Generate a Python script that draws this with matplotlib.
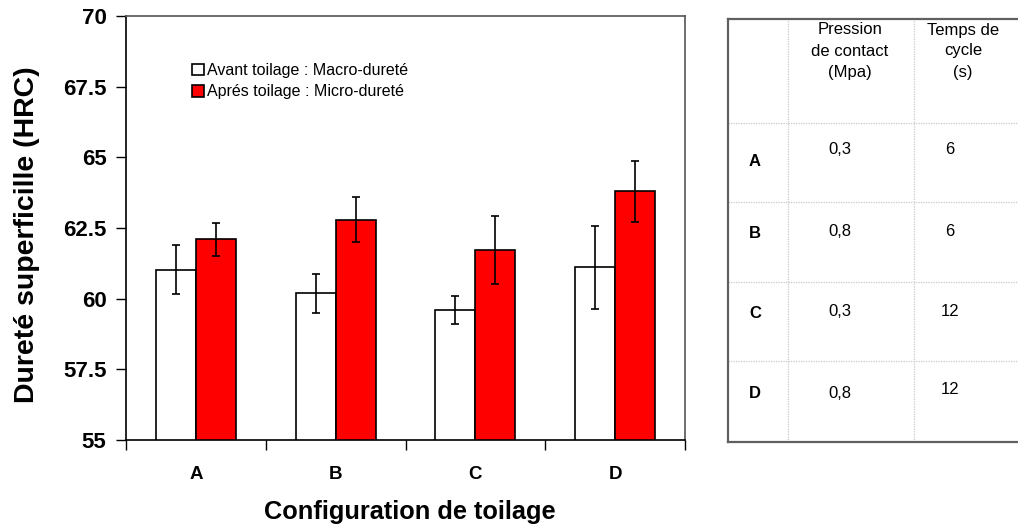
import matplotlib
matplotlib.use("Agg")
import matplotlib.pyplot as plt
import numpy as np
from matplotlib.patches import Patch

plt.rcParams['font.family'] = ['Liberation Sans', 'DejaVu Sans']

# ---- data ----
categories = ['A', 'B', 'C', 'D']
avant = [61.03, 60.20, 59.60, 61.11]
avant_err = [0.88, 0.69, 0.51, 1.46]
apres = [62.10, 62.80, 61.72, 63.80]
apres_err = [0.58, 0.79, 1.19, 1.08]
yticks = [55, 57.5, 60, 62.5, 65, 67.5, 70]
ytick_labels = ['55', '57.5', '60', '62.5', '65', '67.5', '70']

legend_labels = ['Avant toilage : Macro-dureté', 'Aprés toilage : Micro-dureté']

table_header = ['Pression\nde contact\n(Mpa)', 'Temps de\ncycle\n(s)']
table_rows = ['A', 'B', 'C', 'D']
pression = ['0,3', '0,8', '0,3', '0,8']
temps = ['6', '6', '12', '12']

# ---- figure ----
W, H = 1018, 526
fig = plt.figure(figsize=(W / 100, H / 100), dpi=100)
fig.patch.set_facecolor('white')

def fx(px):
    return px / W

def fy(py):
    return 1 - py / H

ax = fig.add_axes([fx(126), fy(440), fx(685) - fx(126), fy(16) - fy(440)])

x = np.arange(len(categories))
bw = 0.286
ax.bar(x - bw / 2, avant, bw, color='white', edgecolor='black', linewidth=1.2,
       yerr=avant_err, capsize=3, error_kw=dict(ecolor='black', elinewidth=1.2, capthick=1.2),
       zorder=2)
ax.bar(x + bw / 2, apres, bw, color='#ff0000', edgecolor='black', linewidth=1.2,
       yerr=apres_err, capsize=3, error_kw=dict(ecolor='black', elinewidth=1.2, capthick=1.2),
       zorder=2)

ax.set_xlim(-0.5, len(categories) - 0.5)
ax.set_ylim(55, 70)
ax.set_yticks(yticks, ytick_labels)
ax.set_xticks(x, categories)
ax.set_xticks(np.arange(len(categories) + 1) - 0.5, minor=True)
ax.tick_params(axis='x', which='major', length=0, pad=19, labelsize=13.5)
ax.tick_params(axis='x', which='minor', length=7, direction='out', width=1)
ax.tick_params(axis='y', length=7, direction='out', width=1, pad=7, labelsize=16)
for lab in ax.get_xticklabels() + ax.get_yticklabels():
    lab.set_fontweight('bold')
for sp in ax.spines.values():
    sp.set_linewidth(1.2)
    sp.set_color('black')
ax.spines['right'].set_color('#555555')
ax.spines['top'].set_color('#555555')

ax.set_ylabel('Dureté superficille (HRC)', fontsize=20.5, fontweight='bold', va='center')
ax.yaxis.set_label_coords((27 - 126) / 559, (440 - 235) / 424)
ax.set_xlabel('Configuration de toilage', fontsize=18.3, fontweight='bold', va='center')
ax.xaxis.set_label_coords((410 - 126) / 559, -(512 - 440) / 424)

handles = [Patch(facecolor='white', edgecolor='black', linewidth=1.2),
           Patch(facecolor='#ff0000', edgecolor='black', linewidth=1.2)]
ax.legend(handles, legend_labels, loc='upper left', bbox_to_anchor=(fx(192), fy(63)),
          bbox_transform=fig.transFigure, frameon=False, fontsize=11.5,
          handlelength=0.75, handleheight=0.75, handletextpad=0.2, labelspacing=0.4,
          borderpad=0, borderaxespad=0)

# ---- table ----
tx0, tx1, ty0, ty1 = 728, 1018, 19, 442
tab = fig.add_axes([fx(tx0), fy(ty1), fx(tx1) - fx(tx0), fy(ty0) - fy(ty1)])
tab.set_xlim(tx0, tx1)
tab.set_ylim(ty1, ty0)
tab.set_xticks([])
tab.set_yticks([])
for s in ['top', 'left', 'bottom']:
    tab.spines[s].set_color('#606060')
    tab.spines[s].set_linewidth(1.6)
tab.spines['right'].set_visible(False)

col_lines = [788, 914]
row_lines = [123, 202, 282, 361]
for c in col_lines:
    tab.axvline(c, color='#c8c8c8', linestyle=(0, (1, 1)), linewidth=0.9)
for r in row_lines:
    tab.axhline(r, color='#c8c8c8', linestyle=(0, (1, 1)), linewidth=0.9)

header_x = [850, 963]
for hx, htxt in zip(header_x, table_header):
    tab.text(hx, 51, htxt, ha='center', va='center', fontsize=12, linespacing=1.5)

label_y = [162, 234, 313, 393]
val_y = [150, 232, 312, 394]
temps_y = [150, 231, 312, 390]
for i, lab in enumerate(table_rows):
    tab.text(755, label_y[i], lab, ha='center', va='center', fontsize=12, fontweight='bold')
    tab.text(840, val_y[i], pression[i], ha='center', va='center', fontsize=12)
    tab.text(950, temps_y[i], temps[i], ha='center', va='center', fontsize=12)

fig.savefig('out.png', dpi=100, facecolor='white')
